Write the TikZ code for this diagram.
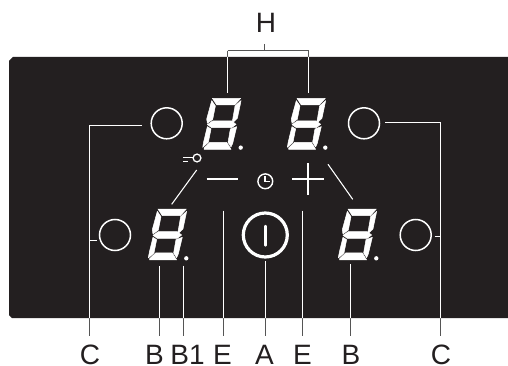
\documentclass[tikz,border=0pt]{standalone}
\usepackage{fontspec}
\setmainfont{Liberation Sans}
\definecolor{panel}{HTML}{231F20}
\definecolor{leader}{HTML}{555555}
\tikzset{
  x=1pt,y=-1pt,
  panelbody/.style={fill=panel,draw=none},
  seg/.style={fill=white,draw=white,line width=0.5pt,line join=round},
  lamp/.style={circle,draw=white,line width=1.5pt,minimum size=31pt,inner sep=0pt,fill=none},
  powerkey/.style={circle,draw=white,line width=3.2pt,minimum size=44pt,inner sep=0pt,fill=none},
  signline/.style={draw=white,line width=1.8pt},
  leaderline/.style={line width=1pt},
  lab/.style={anchor=base,font=\fontsize{28}{28}\selectfont,text=panel,inner sep=0pt},
  digit/.pic={
    \begin{scope}[x=0.3333pt,y=-0.3333pt]
      \path[seg] (29,0)--(114,0)--(96,20)--(42,20)--cycle;
      \path[seg] (27,7)--(38,23)--(30,63)--(14,75)--(12,62)--cycle;
      \path[seg] (115,7)--(112,22)--(104,60)--(88,75)--(97,23)--cycle;
      \path[seg] (14,79)--(30,68)--(87,68)--(100,78)--(87,88)--(27,88)--cycle;
      \path[seg] (14,85)--(25,92)--(17,132)--(0,147)--(3,130)--cycle;
      \path[seg] (102,85)--(90,135)--(85,146)--(76,132)--(83,92)--cycle;
      \path[seg] (4,149)--(22,132)--(72,132)--(85,153)--(4,153)--cycle;
      \fill[white] (114,148) circle (6.5);
    \end{scope}
  }
}
\newcommand{\panelpath}{(9,61)--(13,57)--(508,57)--(508,318)--(12,318)--(9,315)--cycle}
\newcommand{\myleaders}{%
  \draw[leaderline] (hs)--(hj);
  \draw[leaderline] (hl)--(hr);
  \draw[leaderline] (hl)--(hle);
  \draw[leaderline] (hr)--(hre);
  \draw[leaderline] (clt)--(clc)--(cle);
  \draw[leaderline] (cll)--(clm);
  \draw[leaderline] (crt)--(crc)--(cre);
  \draw[leaderline] (crl)--(crm);
  \draw[leaderline] (bt)--(be);
  \draw[leaderline] (b1t)--(b1e);
  \draw[leaderline] (brt)--(bre);
  \draw[leaderline] (elt)--(ele);
  \draw[leaderline] (ert)--(ere);
  \draw[leaderline] (at)--(ae);
  \draw[leaderline] (keyst)--(keyen);
  \draw[leaderline] (plst)--(plen);
}
\begin{document}
\begin{tikzpicture}
\useasboundingbox (0,0) rectangle (508,366);
\fill[white] (0,0) rectangle (508,366);
\fill[panelbody] \panelpath;

% free ends of the connectors
\coordinate (hs) at (264.7,44); \coordinate (hj) at (264.7,50.7);
\coordinate (hl) at (227.5,50.7); \coordinate (hr) at (308.5,50.7);
\coordinate (hle) at (227.5,93); \coordinate (hre) at (308.5,93.5);
\coordinate (clt) at (142,125.7); \coordinate (clc) at (89,125.7); \coordinate (cle) at (89,335.5);
\coordinate (cll) at (97,240); \coordinate (clm) at (89,240);
\coordinate (crt) at (385,123); \coordinate (crc) at (440.7,123); \coordinate (cre) at (440.7,335.5);
\coordinate (crl) at (434.5,236.7); \coordinate (crm) at (440.7,236.7);
\coordinate (bt) at (159,266); \coordinate (be) at (159,336);
\coordinate (b1t) at (183.3,265.5); \coordinate (b1e) at (183.3,336);
\coordinate (brt) at (350,264); \coordinate (bre) at (350,336);
\coordinate (elt) at (223.3,210.7); \coordinate (ele) at (223.3,336);
\coordinate (ert) at (302.7,210.7); \coordinate (ere) at (302.7,336);
\coordinate (at) at (265.3,261); \coordinate (ae) at (265.3,336);
\coordinate (keyst) at (196.7,170); \coordinate (keyen) at (171.7,204.3);
\coordinate (plst) at (328,164.3); \coordinate (plen) at (352.7,199.3);

% leaders: dark on the paper, white over the panel
\begin{scope}[draw=leader]\myleaders\end{scope}
\begin{scope}
  \clip \panelpath;
  \begin{scope}[draw=white]\myleaders\end{scope}
\end{scope}

% lamps and keys
\node[lamp] (lampa) at (166.7,123.3) {};
\node[lamp] (lampb) at (364,123.3) {};
\node[lamp] (lampc) at (115,235) {};
\node[lamp] (lampd) at (415.7,235) {};
\node[powerkey] (power) at (265.3,235) {};
\draw[white,line width=2.4pt,line cap=round] (265.3,226)--(265.3,245.5);

% digits
\pic at (202.7,98.3) {digit};
\pic at (287.3,98.3) {digit};
\pic at (148.3,209) {digit};
\pic at (338.3,209) {digit};

% symbols
\draw[white,line width=1.3pt] (197,158) circle (3.9);
\draw[white,line width=1.3pt] (183.3,157.7)--(193,157.7);
\draw[white,line width=1.3pt] (183.3,161.3)--(187.5,161.3);
\draw[signline] (206.7,179.3)--(238.3,179.3);
\draw[signline] (292.3,179.3)--(324,179.3);
\draw[signline] (308.3,163.3)--(308.3,195);
\draw[white,line width=1.4pt] (265.3,181.3) circle (7.4);
\draw[white,line width=1.2pt] (265,176.5)--(265,181.5)--(270,181.5);

% labels
\node[lab] (lh) at (266,32.7) {H};
\node[lab] (lc1) at (90,364.5) {C};
\node[lab] (lb) at (154.5,364.5) {B};
\node[lab] (lb1) at (187.5,364.5) {B1};
\node[lab] (le1) at (222.5,364.5) {E};
\node[lab] (la) at (264.5,364.5) {A};
\node[lab] (le2) at (302.5,364.5) {E};
\node[lab] (lb2) at (351,364.5) {B};
\node[lab] (lc2) at (441,364.5) {C};
\end{tikzpicture}
\end{document}
